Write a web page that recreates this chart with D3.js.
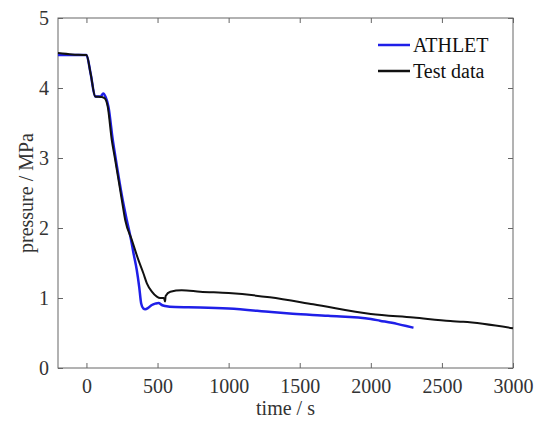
<!DOCTYPE html>
<html>
<head>
<meta charset="utf-8">
<script src="https://cdn.jsdelivr.net/npm/d3@7"></script>
<style>
 body { margin:0; background:#fff; }
</style>
</head>
<body>
<svg id="chart" width="539" height="423"></svg>
<script>
// pressure curves
var athletTime = [-200, 0, 30, 61, 100, 118, 135, 155, 185, 205, 255, 284, 314, 331, 354, 371, 385, 400, 413, 435, 460, 485, 507, 530, 553, 624, 800, 1000, 1300, 1450, 1700, 2000, 2064, 2184, 2250, 2300];
var athletP    = [4.47, 4.47, 4.2, 3.88, 3.88, 3.92, 3.87, 3.73, 3.26, 3.0, 2.4, 2.11, 1.83, 1.64, 1.4, 1.16, 0.92, 0.85, 0.84, 0.86, 0.9, 0.92, 0.93, 0.9, 0.886, 0.87, 0.865, 0.85, 0.80, 0.775, 0.745, 0.70, 0.676, 0.63, 0.60, 0.576];

var testTime = [-200, -100, 0, 30, 61, 108, 130, 150, 178, 200, 249, 273, 319, 366, 401, 425, 460, 495, 518, 545, 553, 557, 590, 670, 800, 1000, 1290, 1595, 2000, 2300, 2560, 2650, 3000];
var testP    = [4.5, 4.48, 4.47, 4.2, 3.88, 3.87, 3.85, 3.73, 3.26, 3.0, 2.4, 2.11, 1.83, 1.54, 1.35, 1.21, 1.09, 1.02, 1.0, 1.0, 0.95, 1.03, 1.09, 1.11, 1.09, 1.07, 1.01, 0.91, 0.77, 0.72, 0.67, 0.66, 0.567];

var xTicks = [0, 500, 1000, 1500, 2000, 2500, 3000];
var yTicks = [0, 1, 2, 3, 4, 5];
var seriesNames = ["ATHLET", "Test data"];
var seriesColors = ["#1f1fe8", "#111111"];

var serif = '"Liberation Serif", "Times New Roman", serif';
var svg = d3.select("#chart");
var pLeft = 58, pRight = 513, pTop = 18, pBottom = 368;

var x = d3.scaleLinear().domain([-200, 3000]).range([pLeft, pRight]);
var y = d3.scaleLinear().domain([0, 5]).range([pBottom, pTop]);

function styleAxis(g) {
  g.attr("font-family", serif);
  g.select(".domain").remove();
  g.selectAll(".tick line").attr("stroke", "#666");
  g.selectAll(".tick text").attr("font-family", serif).style("font-size", "20px").attr("fill", "#333");
}

// bottom / left axes, ticks pointing inward
svg.append("g").attr("transform", "translate(0," + pBottom + ")")
  .call(d3.axisBottom(x).tickValues(xTicks).tickFormat(d3.format("d")).tickSizeInner(-5).tickPadding(11))
  .call(styleAxis);
svg.append("g").attr("transform", "translate(" + pLeft + ",0)")
  .call(d3.axisLeft(y).tickValues(yTicks).tickFormat(d3.format("d")).tickSizeInner(-5).tickPadding(9))
  .call(styleAxis);
// top / right mirror ticks
svg.append("g").attr("transform", "translate(0," + pTop + ")")
  .call(d3.axisTop(x).tickValues(xTicks).tickFormat("").tickSizeInner(-5))
  .call(styleAxis);
svg.append("g").attr("transform", "translate(" + pRight + ",0)")
  .call(d3.axisRight(y).tickValues(yTicks).tickFormat("").tickSizeInner(-5))
  .call(styleAxis);

svg.append("rect")
  .attr("x", pLeft).attr("y", pTop)
  .attr("width", pRight - pLeft).attr("height", pBottom - pTop)
  .attr("fill", "none").attr("stroke", "#666").attr("stroke-width", 1);

var line = d3.line().curve(d3.curveMonotoneX)
  .x(function(d){ return x(d[0]); }).y(function(d){ return y(d[1]); });

svg.append("path")
  .datum(d3.zip(athletTime, athletP))
  .attr("d", line).attr("fill", "none")
  .attr("stroke", seriesColors[0]).attr("stroke-width", 2.5);

svg.append("path")
  .datum(d3.zip(testTime, testP))
  .attr("d", line).attr("fill", "none")
  .attr("stroke", seriesColors[1]).attr("stroke-width", 2);

// legend
var lg = svg.append("g").attr("transform", "translate(378,45)");
seriesNames.forEach(function(name, i) {
  lg.append("line").attr("x1", 0).attr("x2", 32).attr("y1", i * 26).attr("y2", i * 26)
    .attr("stroke", seriesColors[i]).attr("stroke-width", 2.5);
  lg.append("text").attr("x", 35).attr("y", i * 26 + 7)
    .attr("font-family", serif).style("font-size", "20px").attr("fill", "#111").text(name);
});

// axis labels
svg.append("text").attr("x", (pLeft + pRight) / 2).attr("y", 415)
  .attr("text-anchor", "middle").attr("font-family", serif).attr("fill", "#333")
  .style("font-size", "20px").text("time / s");
svg.append("text").attr("transform", "translate(33," + (pTop + pBottom) / 2 + ") rotate(-90)")
  .attr("text-anchor", "middle").attr("font-family", serif).attr("fill", "#333")
  .style("font-size", "20px").text("pressure / MPa");
</script>
</body>
</html>
